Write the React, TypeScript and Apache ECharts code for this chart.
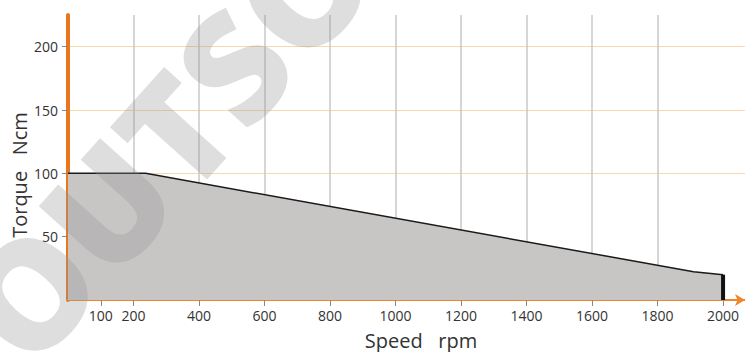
import React, { useEffect, useRef } from "react";
import * as echarts from "echarts";

const speedRpm = [0, 237, 1910, 2000];
const torqueNcm = [100, 100, 22.3, 20];
const endSpeed = [2000, 2000];
const endTorque = [0, 20];
const xTickValues = [100, 200, 400, 600, 800, 1000, 1200, 1400, 1600, 1800, 2000];
const yTickValues = [50, 100, 150, 200];
const xAxisTitle = "Speed   rpm";
const yAxisTitle = "Torque   Ncm";
const watermark = "OUTSOURCE";

export default function App() {
  const ref = useRef<HTMLDivElement>(null);
  useEffect(() => {
    if (!ref.current) return;
    const chart = echarts.init(ref.current, undefined, { renderer: "svg" });
    const font = "'Open Sans', 'DejaVu Sans', sans-serif";
    chart.setOption({
      animation: false,
      backgroundColor: "#ffffff",
      grid: { left: 68, right: 0, top: 15, bottom: 52, containLabel: false },
      xAxis: {
        type: "value",
        min: 0,
        max: 2067,
        interval: 200,
        axisLine: {
          show: true,
          lineStyle: { color: "#f0862a", width: 2 },
          symbol: ["none", "arrow"],
          symbolSize: [9, 10],
        },
        axisTick: {
          show: true,
          length: 6,
          customValues: xTickValues,
          lineStyle: { color: "#888888", width: 1 },
        },
        axisLabel: {
          customValues: xTickValues,
          formatter: (v: number) => String(v),
          margin: 8,
          color: "#333333",
          fontSize: 14,
          fontFamily: font,
        },
        splitLine: {
          show: true,
          showMinLine: false,
          showMaxLine: false,
          lineStyle: { color: "#c8c8c8", width: 1.5 },
        },
      },
      yAxis: {
        type: "value",
        min: 0,
        max: 225,
        interval: 50,
        axisLine: { show: true, onZero: false, lineStyle: { color: "#e8771e", width: 4 } },
        axisTick: {
          show: true,
          length: 6,
          customValues: yTickValues,
          lineStyle: { color: "#888888", width: 1 },
        },
        axisLabel: {
          customValues: yTickValues,
          formatter: (v: number) => String(v),
          margin: 10,
          color: "#333333",
          fontSize: 14,
          fontFamily: font,
        },
        splitLine: {
          show: true,
          showMinLine: false,
          lineStyle: { color: "#f9d8ad", width: 1 },
        },
      },
      series: [
        {
          type: "line",
          data: speedRpm.map((s, i) => [s, torqueNcm[i]]),
          symbol: "none",
          lineStyle: { color: "#1a1a1a", width: 1.5 },
          areaStyle: { color: "#c8c6c5", opacity: 1 },
          z: 2,
        },
        {
          type: "line",
          data: endSpeed.map((s, i) => [s, endTorque[i]]),
          symbol: "none",
          lineStyle: { color: "#111111", width: 4 },
          z: 3,
        },
      ],
      graphic: [
        {
          type: "text",
          x: 421,
          y: 340,
          style: {
            text: xAxisTitle,
            fill: "#333333",
            font: `20px ${font}`,
            textAlign: "center",
            textVerticalAlign: "middle",
          },
        },
        {
          type: "text",
          x: 19,
          y: 175,
          rotation: Math.PI / 2,
          style: {
            text: yAxisTitle,
            fill: "#333333",
            font: `20px ${font}`,
            textAlign: "center",
            textVerticalAlign: "middle",
          },
        },
        {
          type: "text",
          x: -12,
          y: 336,
          rotation: (48 * Math.PI) / 180,
          z: 100,
          silent: true,
          style: {
            text: watermark,
            fill: "rgba(148,148,148,0.31)",
            font: `800 150px 'Open Sans', sans-serif`,
            textAlign: "left",
            textVerticalAlign: "middle",
          },
        },
      ],
    });
    return () => chart.dispose();
  }, []);
  return <div ref={ref} style={{ width: 745, height: 352, position: "absolute", left: 0, top: 0 }} />;
}
